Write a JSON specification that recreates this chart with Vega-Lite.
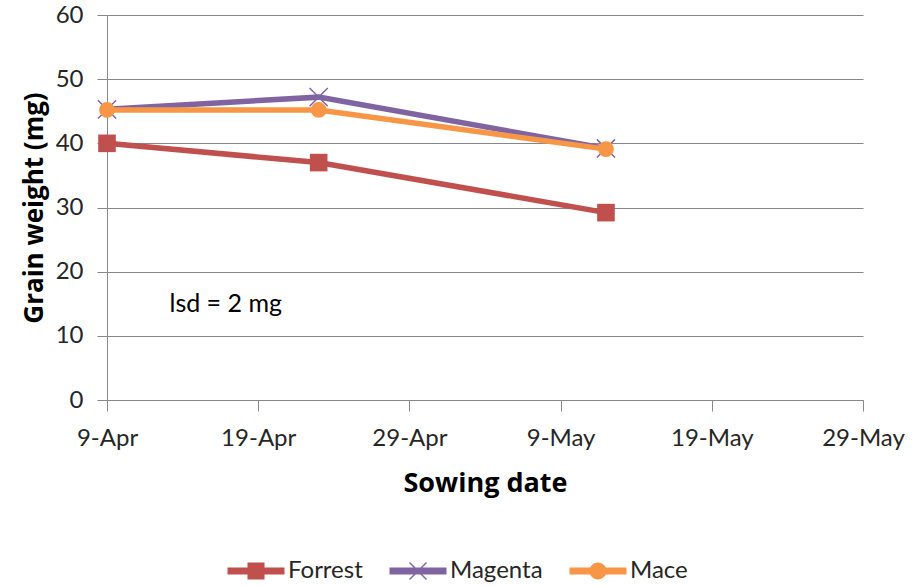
{
  "$schema": "https://vega.github.io/schema/vega-lite/v6.json",
  "width": 756,
  "height": 385,
  "autosize": "none",
  "padding": {"left": 107, "top": 15, "right": 59, "bottom": 186},
  "background": "white",
  "config": {
    "view": {"stroke": null},
    "font": "Lato",
    "axis": {"labelFont": "Lato", "titleFont": "Open Sans", "labelColor": "#262626", "titleColor": "#000000", "domainColor": "#878787", "tickColor": "#878787", "gridColor": "#878787"}
  },
  "datasets": {
    "grain": [
      {"variety": "Forrest", "date": "2013/04/09", "weight": 40.0},
      {"variety": "Forrest", "date": "2013/04/23", "weight": 37.0},
      {"variety": "Forrest", "date": "2013/05/12", "weight": 29.2},
      {"variety": "Magenta", "date": "2013/04/09", "weight": 45.3},
      {"variety": "Magenta", "date": "2013/04/23", "weight": 47.2},
      {"variety": "Magenta", "date": "2013/05/12", "weight": 39.2},
      {"variety": "Mace", "date": "2013/04/09", "weight": 45.2},
      {"variety": "Mace", "date": "2013/04/23", "weight": 45.2},
      {"variety": "Mace", "date": "2013/05/12", "weight": 39.1}
    ],
    "note": [
      {"date": "2013/04/13", "weight": 15, "label": "lsd = 2 mg"}
    ]
  },
  "data": {"name": "grain"},
  "encoding": {
    "x": {
      "field": "date", "type": "temporal",
      "scale": {"domain": [{"year": 2013, "month": 4, "date": 9}, {"year": 2013, "month": 5, "date": 29}]},
      "axis": {
        "title": "Sowing date", "format": "%-d-%b",
        "values": [{"year": 2013, "month": 4, "date": 9}, {"year": 2013, "month": 4, "date": 19}, {"year": 2013, "month": 4, "date": 29}, {"year": 2013, "month": 5, "date": 9}, {"year": 2013, "month": 5, "date": 19}, {"year": 2013, "month": 5, "date": 29}],
        "grid": false, "tickSize": 11, "labelFontSize": 24, "labelPadding": 15,
        "labelFlush": false, "titleFontSize": 27, "titleFontWeight": "bold", "titlePadding": 20
      }
    },
    "y": {
      "field": "weight", "type": "quantitative",
      "scale": {"domain": [0, 60], "nice": false, "zero": true},
      "axis": {
        "title": "Grain weight (mg)", "values": [0, 10, 20, 30, 40, 50, 60],
        "grid": true, "tickSize": 10, "labelFontSize": 24, "labelPadding": 14,
        "titleFontSize": 26, "titleFontWeight": "bold", "titlePadding": 8
      }
    },
    "color": {
      "field": "variety", "type": "nominal",
      "scale": {"domain": ["Forrest", "Magenta", "Mace"], "range": ["#C0504D", "#8064A2", "#F79646"]},
      "legend": {
        "title": null, "orient": "none", "direction": "horizontal",
        "legendX": 137, "legendY": 544,
        "symbolSize": 400, "symbolStrokeWidth": 0, "symbolOpacity": 1,
        "labelFontSize": 24, "labelFont": "Lato", "labelColor": "#262626",
        "labelOffset": 20, "columnPadding": 26,
        "encode": {
          "symbols": {
            "update": {
              "shape": {"signal": "datum.value === 'Forrest' ? 'M-2.85,-0.35H2.85V0.35H-2.85Z M-0.85,-0.85H0.85V0.85H-0.85Z' : datum.value === 'Magenta' ? 'M-2.85,-0.35H2.85V0.35H-2.85Z M-0.9,-0.8L-0.8,-0.9L0.9,0.8L0.8,0.9Z M-0.9,0.8L0.8,-0.9L0.9,-0.8L-0.8,0.9Z' : 'M-2.85,-0.35H2.85V0.35H-2.85Z M-0.85,0A0.85,0.85 0 1,1 0.85,0A0.85,0.85 0 1,1 -0.85,0Z'"},
              "fill": {"signal": "datum.value === 'Forrest' ? '#C0504D' : datum.value === 'Magenta' ? '#8064A2' : '#F79646'"},
              "stroke": {"value": null}
            }
          }
        }
      }
    }
  },
  "layer": [
    {"transform": [{"filter": "datum.variety === 'Forrest'"}], "mark": {"type": "line", "strokeWidth": 5.5}},
    {"transform": [{"filter": "datum.variety === 'Forrest'"}], "mark": {"type": "point", "shape": "square", "filled": true, "opacity": 1, "size": 310}},
    {"transform": [{"filter": "datum.variety === 'Magenta'"}], "mark": {"type": "line", "strokeWidth": 5.5}},
    {"transform": [{"filter": "datum.variety === 'Magenta'"}], "mark": {"type": "point", "shape": "M-1,-1L1,1M-1,1L1,-1", "filled": false, "opacity": 1, "size": 330, "strokeWidth": 1.5}},
    {"transform": [{"filter": "datum.variety === 'Mace'"}], "mark": {"type": "line", "strokeWidth": 5.5}},
    {"transform": [{"filter": "datum.variety === 'Mace'"}], "mark": {"type": "point", "shape": "circle", "filled": true, "opacity": 1, "size": 250}},
    {
      "data": {"name": "note"},
      "mark": {"type": "text", "align": "left", "baseline": "middle", "fontSize": 25, "font": "Lato", "color": "#000000", "dx": 2},
      "encoding": {
        "x": {"field": "date", "type": "temporal"},
        "y": {"field": "weight", "type": "quantitative"},
        "text": {"field": "label"},
        "color": null
      }
    }
  ]
}
